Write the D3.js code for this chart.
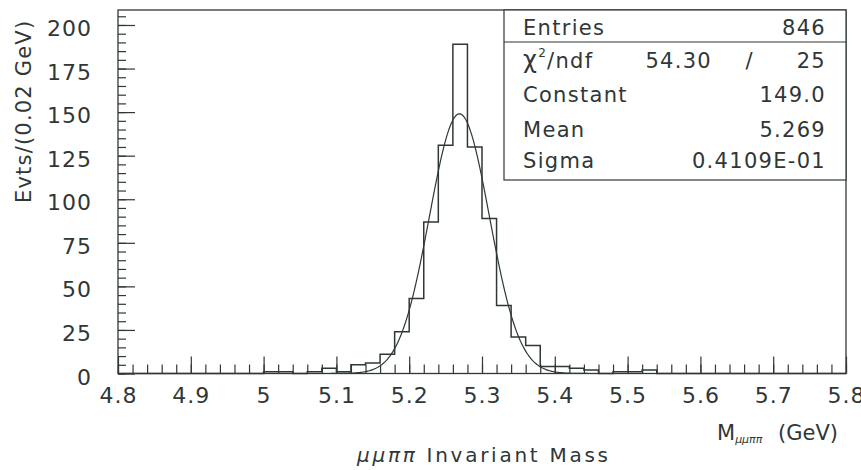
<!DOCTYPE html>
<html>
<head>
<meta charset="utf-8">
<script src="https://cdn.jsdelivr.net/npm/d3@7"></script>
<style>
  body { margin: 0; background: #fff; }
  svg text { font-family: "DejaVu Sans", sans-serif; fill: #2f3737; }
</style>
</head>
<body>
<svg id="chart" width="861" height="470"></svg>
<script>
// Histogram of the mu mu pi pi invariant mass, 50 bins of 0.02 GeV from 4.8 to 5.8
const binStart = 4.8;
const binWidth = 0.02;
const counts = [
  0, 0, 0, 0, 0, 0, 0, 0, 0, 0,      // 4.80 - 5.00
  1, 1, 0, 1, 3, 1, 5, 6, 11, 24,    // 5.00 - 5.20
  43, 87, 131, 189, 130, 89, 39, 21, 16, 4, // 5.20 - 5.40
  4, 3, 2, 0, 1, 1, 2, 0, 0, 0,      // 5.40 - 5.60
  0, 0, 0, 0, 0, 0, 0, 0, 0, 0       // 5.60 - 5.80
];

// Gaussian fit result
const fitConstant = 149.0;
const fitMean = 5.269;
const fitSigma = 0.04109;

// Axis ticks
const xMajorTicks = [4.8, 4.9, 5.0, 5.1, 5.2, 5.3, 5.4, 5.5, 5.6, 5.7, 5.8];
const xTickLabels = ["4.8", "4.9", "5", "5.1", "5.2", "5.3", "5.4", "5.5", "5.6", "5.7", "5.8"];
const yMajorTicks = [0, 25, 50, 75, 100, 125, 150, 175, 200];

// Statistics box
const statNames = ["Entries", "Constant", "Mean", "Sigma"];
const statValues = ["846", "149.0", "5.269", "0.4109E-01"];
const chiSquare = "54.30";
const ndf = "25";

const svg = d3.select("#chart");
const ink = "#2f3737";

const x = d3.scaleLinear().domain([4.8, 5.8]).range([118, 846]);
const y = d3.scaleLinear().domain([0, 208.6]).range([373.5, 10]);

// Frame
svg.append("rect")
  .attr("x", x(4.8)).attr("y", y(208.6))
  .attr("width", x(5.8) - x(4.8)).attr("height", y(0) - y(208.6))
  .attr("fill", "none").attr("stroke", ink).attr("stroke-width", 1.3);

// X axis: minor ticks every 0.02, major every 0.1, pointing inward
const xMinor = d3.range(0, 51).map(i => 4.8 + i * 0.02);
svg.append("g").attr("transform", `translate(0,${y(0)})`)
  .call(d3.axisBottom(x).tickValues(xMinor).tickSize(-9).tickFormat(""))
  .call(g => g.select(".domain").remove())
  .call(g => g.selectAll("line").attr("stroke", ink).attr("stroke-width", 1.2));
svg.append("g").attr("transform", `translate(0,${y(0)})`)
  .call(d3.axisBottom(x).tickValues(xMajorTicks).tickSize(-17).tickPadding(14)
    .tickFormat((d, i) => xTickLabels[i]))
  .call(g => g.select(".domain").remove())
  .call(g => g.selectAll("line").attr("stroke", ink).attr("stroke-width", 1.2))
  .call(g => g.selectAll("text").attr("font-size", 22).attr("fill", ink)
    .attr("letter-spacing", 1).style("font-family", "DejaVu Sans"));

// Y axis: minor ticks every 5, major every 25
const yMinor = d3.range(0, 42).map(i => i * 5);
svg.append("g").attr("transform", `translate(${x(4.8)},0)`)
  .call(d3.axisLeft(y).tickValues(yMinor).tickSize(-8).tickFormat(""))
  .call(g => g.select(".domain").remove())
  .call(g => g.selectAll("line").attr("stroke", ink).attr("stroke-width", 1.2));
svg.append("g").attr("transform", `translate(${x(4.8)},0)`)
  .call(d3.axisLeft(y).tickValues(yMajorTicks).tickSize(-17).tickPadding(26))
  .call(g => g.select(".domain").remove())
  .call(g => g.selectAll("line").attr("stroke", ink).attr("stroke-width", 1.2))
  .call(g => g.selectAll("text").attr("font-size", 22).attr("fill", ink)
    .attr("dy", "0.48em").attr("letter-spacing", 1).style("font-family", "DejaVu Sans"));

// Histogram outline as a step line
const pts = [[x(binStart), y(0)]];
counts.forEach((c, i) => {
  const lo = binStart + i * binWidth, hi = lo + binWidth;
  pts.push([x(lo), y(c)], [x(hi), y(c)]);
});
pts.push([x(binStart + counts.length * binWidth), y(0)]);
svg.append("path")
  .attr("d", d3.line()(pts))
  .attr("fill", "none").attr("stroke", ink).attr("stroke-width", 1.5);

// Gaussian fit curve
const gauss = m => fitConstant * Math.exp(-0.5 * ((m - fitMean) / fitSigma) ** 2);
const curveX = d3.range(0, 1001).map(i => 4.8 + i * 0.001);
svg.append("path")
  .attr("d", d3.line().x(d => x(d)).y(d => y(gauss(d))).curve(d3.curveLinear)(curveX))
  .attr("fill", "none").attr("stroke", ink).attr("stroke-width", 1.2);

// Statistics box
const box = svg.append("g");
box.append("rect").attr("x", 504).attr("y", 10).attr("width", 846 - 504).attr("height", 170)
  .attr("fill", "#fff").attr("stroke", ink).attr("stroke-width", 1.2);
box.append("line").attr("x1", 504).attr("x2", 846).attr("y1", 42).attr("y2", 42)
  .attr("stroke", ink).attr("stroke-width", 1.2);

const rowBase = [35, 102, 137, 168];
statNames.forEach((n, i) => {
  box.append("text").attr("x", 523).attr("y", rowBase[i]).attr("font-size", 21)
    .attr("letter-spacing", 1.3).text(n);
  box.append("text").attr("x", 826).attr("y", rowBase[i]).attr("font-size", 21)
    .attr("letter-spacing", 1.3).attr("text-anchor", "end").text(statValues[i]);
});
const chiRow = box.append("text").attr("x", 523).attr("y", 68).attr("font-size", 21)
  .attr("letter-spacing", 1.3);
chiRow.append("tspan").attr("font-size", 24).text("χ");
chiRow.append("tspan").attr("font-size", 12).attr("dy", -11).text("2");
chiRow.append("tspan").attr("dy", 11).text("/ndf");
box.append("text").attr("x", 712).attr("y", 68).attr("font-size", 21)
  .attr("letter-spacing", 1.3).attr("text-anchor", "end").text(chiSquare);
box.append("text").attr("x", 749).attr("y", 68).attr("font-size", 21)
  .attr("text-anchor", "middle").text("/");
box.append("text").attr("x", 826).attr("y", 68).attr("font-size", 21)
  .attr("letter-spacing", 1.3).attr("text-anchor", "end").text(ndf);

// Y axis title
svg.append("text")
  .attr("transform", "translate(31,203) rotate(-90)")
  .attr("font-size", 21).attr("letter-spacing", 1.2)
  .text("Evts/(0.02 GeV)");

// X axis title
const xt = svg.append("text").attr("x", 717).attr("y", 440).attr("font-size", 21);
xt.append("tspan").text("M");
xt.append("tspan").attr("font-size", 11).attr("font-style", "italic").attr("dy", 3).text("μμππ");
svg.append("text").attr("x", 778).attr("y", 440).attr("font-size", 21).text("(GeV)");

// Plot title below
const title = svg.append("text").attr("x", 357).attr("y", 462).attr("font-size", 20)
  .attr("textLength", 251).attr("lengthAdjust", "spacing");
title.append("tspan").attr("font-style", "italic").text("μμππ");
title.append("tspan").text(" Invariant Mass");
</script>
</body>
</html>
